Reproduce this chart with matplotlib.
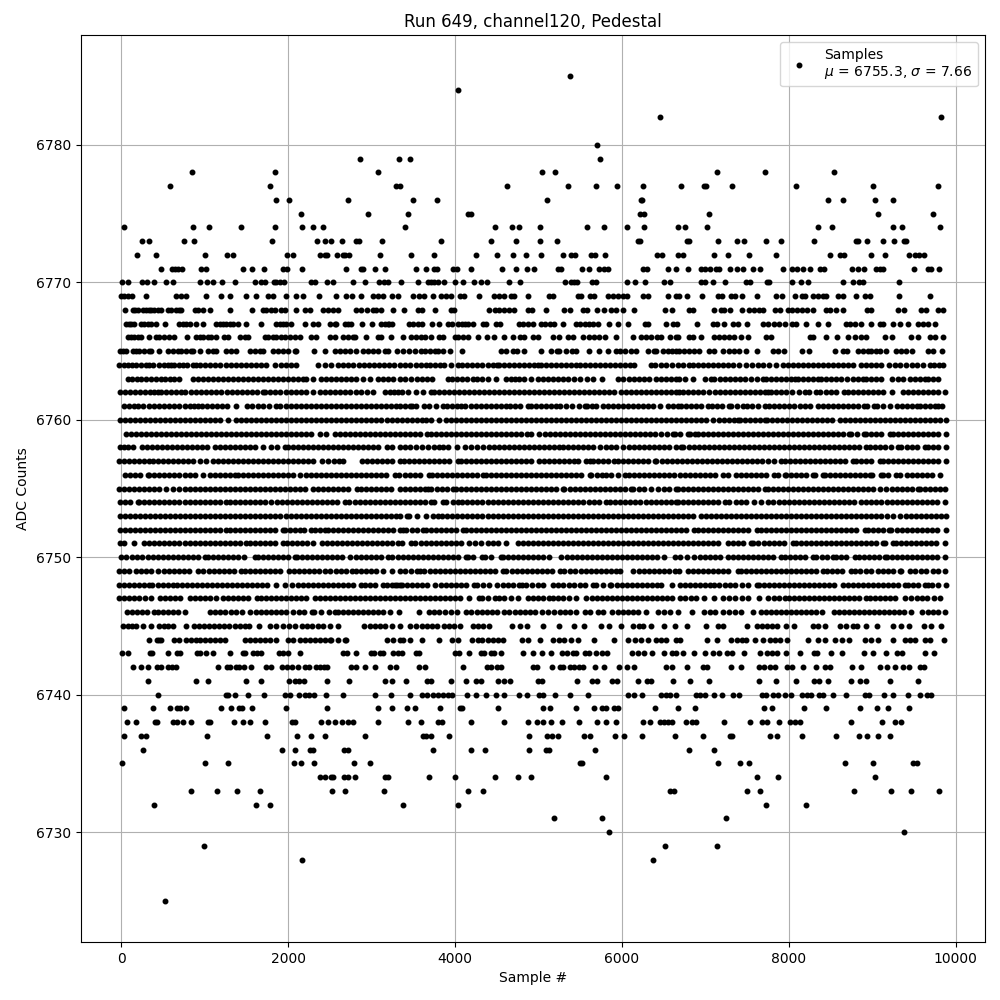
###############################################################################
# Pedestal samples for one ADC channel
# Sample numbers below are read off the picture, one list per ADC count
###############################################################################
import matplotlib
matplotlib.use("Agg")
import matplotlib.pyplot as plt

# Sparse rows
adc_6785 = [5376]
adc_6784 = [4040]
adc_6782 = [6456, 9828]
adc_6780 = [5700]
adc_6779 = [2864, 3332, 3464, 5736]
adc_6778 = [848, 1844, 3080, 5040, 5196, 7140, 7716, 8544]
adc_6777 = [584, 1784, 3296, 3344, 4628, 5352, 5688, 5940, 6252, 6708, 6984, 7008, 7320, 8088, 9012, 9792]
adc_6776 = [1856, 2012, 2720, 3500, 3788, 5100, 6228, 6240, 8472, 8652, 9036, 9252]
adc_6775 = [2156, 2960, 3440, 4160, 4196, 6216, 6264, 7044, 9072, 9732]
adc_6774 = [32, 860, 1052, 1436, 1844, 2168, 2300, 2420, 3404, 4484, 4688, 4772, 5016, 5580, 5784, 6060, 6264, 6672,
            6756, 7020, 8352, 8520, 9252, 9360, 9816]
adc_6773 = [248, 332, 752, 872, 1808, 2348, 2444, 2516, 2648, 2816, 2852, 3128, 3836, 4436, 4736, 5016, 5220, 6192,
            6216, 6780, 6804, 7152, 7380, 7464, 7728, 7908, 8304, 8808, 8832, 8940, 9132, 9264, 9384, 9408]
adc_6772 = [188, 416, 1004, 1268, 1340, 1988, 2060, 2384, 2444, 2468, 2588, 2660, 2684, 2732, 3104, 3476, 3752, 4256,
            4508, 4700, 4856, 5028, 5292, 5388, 5436, 5628, 5676, 5796, 6420, 6480, 6672, 6732, 7104, 7272, 7524, 7848,
            8496, 8616, 8664, 8988, 9156, 9444, 9516, 9564, 9624]
adc_6771 = [476, 608, 644, 680, 728, 956, 1016, 1460, 1568, 1712, 1940, 1988, 2168, 2696, 2876, 2900, 3044, 3164, 3536,
            3656, 3752, 3788, 3980, 4028, 4196, 4568, 4736, 4868, 4944, 5232, 5268, 5520, 5604, 5724, 5784, 5832, 6252,
            6300, 6552, 6648, 6792, 6948, 6996, 7056, 7128, 7164, 7296, 7380, 7452, 7572, 7656, 7932, 8040, 8100, 8172,
            8256, 8372, 8424, 8760, 8832, 8904, 9048, 9096, 9132, 9504, 9672, 9708, 9804]
adc_6770 = [8, 80, 248, 308, 392, 536, 620, 944, 1028, 1100, 1208, 1364, 1604, 1676, 1724, 1832, 1856, 1904, 1952, 2276,
            2324, 2468, 2540, 2780, 2924, 3092, 3152, 3200, 3356, 3560, 3680, 3716, 3752, 3800, 3872, 4004, 4100, 4232,
            4316, 4388, 4652, 4784, 5316, 5388, 5424, 5460, 5640, 5688, 6060, 6156, 6276, 6504, 6576, 6948, 6996, 7092,
            7236, 7488, 7536, 7740, 7764, 8040, 8148, 8232, 8652, 8772, 8844, 8892, 9324]

# Upper band
adc_6769 = [0, 40, 80, 128, 296, 660, 720, 772, 1012, 1200, 1300, 1500, 1616, 1760, 1820, 1976, 2092, 2180, 2372, 2576,
            2700, 2768, 2876, 3020, 3080, 3140, 3240, 3320, 3492, 3572, 3624, 3732, 3832, 3892, 3952, 4060, 4112, 4292,
            4464, 4532, 4592, 4672, 4712, 4872, 5132, 5172, 5472, 5512, 5612, 5660, 5832, 5892, 5952, 6012, 6060, 6252,
            6312, 6552, 6652, 6680, 6776, 6956, 7148, 7200, 7308, 7356, 7436, 7616, 7848, 7916, 8072, 8160, 8188, 8288,
            8348, 8408, 8440, 8588, 8648, 8808, 8908, 8968, 9320, 9692]
adc_6768 = [48, 140, 170, 200, 260, 300, 330, 360, 400, 440, 480, 560, 600, 660, 700, 720, 880, 920, 980, 1060, 1300,
            1568, 1700, 1740, 1800, 1840, 1920, 1960, 2100, 2200, 2260, 2420, 2480, 2540, 2600, 2820, 2880, 2950, 3020,
            3060, 3120, 3252, 3384, 3552, 3600, 3760, 3952, 3992, 4404, 4484, 4532, 4592, 4644, 4704, 4872, 4924, 5092,
            5304, 5384, 5532, 5580, 5700, 5784, 5872, 5932, 6012, 6144, 6512, 6604, 6800, 6856, 7108, 7188, 7228, 7300,
            7436, 7528, 7588, 7648, 7688, 7840, 7896, 7988, 8040, 8096, 8156, 8216, 8288, 8440, 8496, 8568, 8648, 8936,
            8988, 9308, 9380, 9588, 9648, 9788, 9848]
adc_6767 = [60, 90, 120, 160, 240, 280, 320, 360, 420, 532, 700, 740, 780, 820, 900, 980, 1140, 1180, 1220, 1260, 1300,
            1340, 1400, 1500, 1676, 1860, 1900, 1940, 1980, 2036, 2208, 2300, 2360, 2500, 2560, 2580, 2680, 2720, 2760,
            2892, 3008, 3120, 3160, 3200, 3240, 3212, 3452, 3500, 3560, 3600, 3724, 3804, 3912, 3960, 4032, 4080, 4120,
            4160, 4212, 4332, 4372, 4492, 4544, 4772, 4820, 4880, 4932, 5032, 5080, 5140, 5192, 5300, 5452, 5500, 5552,
            5600, 5652, 5712, 5840, 5952, 6072, 6272, 6312, 6532, 6612, 6660, 6896, 7088, 7140, 7220, 7336, 7388, 7496,
            7688, 7748, 7828, 7888, 7948, 8040, 8080, 8208, 8348, 8468, 8680, 8728, 8788, 8868, 8988, 9088, 9128, 9248,
            9328, 9428, 9548, 9608, 9668, 9748]
adc_6766 = [80, 120, 160, 200, 240, 340, 420, 460, 520, 580, 640, 788, 900, 940, 980, 1040, 1080, 1140, 1230, 1280, 1420,
            1480, 1520, 1720, 1760, 1820, 1860, 1920, 1960, 2020, 2080, 2140, 2280, 2340, 2500, 2560, 2660, 2720, 2780,
            2800, 2940, 3080, 3120, 3232, 3372, 3472, 3530, 3590, 3644, 3712, 3812, 3852, 4000, 4040, 4100, 4160, 4272,
            4380, 4464, 4584, 4692, 4780, 4832, 4932, 4992, 5172, 5252, 5352, 5420, 5532, 5600, 5660, 5720, 5792, 5924,
            6132, 6232, 6292, 6352, 6420, 6472, 6572, 6652, 6668, 6800, 6856, 6948, 7108, 7168, 7228, 7280, 7348, 7428,
            7508, 7728, 7788, 8248, 8288, 8448, 8576, 8708, 8788, 8868, 8928, 9152, 9236, 9468, 9548, 9688, 9748, 9848]
adc_6765 = [-16, 20, 60, 140, 180, 220, 280, 340, 360, 460, 560, 620, 680, 720, 780, 840, 860, 940, 1040, 1100, 1140,
            1260, 1320, 1380, 1540, 1600, 1660, 1700, 1820, 1880, 1940, 2000, 2080, 2100, 2312, 2440, 2560, 2620, 2680,
            2740, 2820, 2900, 2960, 3020, 3080, 3160, 3200, 3300, 3372, 3452, 3524, 3592, 3640, 3700, 3760, 3800, 3860,
            3940, 4080, 4552, 4612, 4692, 4744, 4824, 5032, 5152, 5220, 5252, 5332, 5400, 5452, 5604, 5724, 5832, 5932,
            5980, 6032, 6112, 6172, 6312, 6380, 6412, 6492, 6550, 6600, 6652, 6688, 6748, 6808, 6868, 6928, 7048, 7108,
            7208, 7288, 7348, 7408, 7488, 7616, 7808, 7868, 7940, 8156, 8240, 8548, 8648, 8700, 8828, 8888, 8948, 8988,
            9048, 9096, 9168, 9288, 9348, 9408, 9472, 9668, 9728, 9836]
adc_6764 = [-20, 30, 80, 130, 180, 240, 300, 340, 380, 460, 510, 560, 600, 640, 690, 740, 790, 860, 900, 950, 1010, 1070,
            1130, 1190, 1260, 1320, 1380, 1440, 1500, 1560, 1620, 1680, 1740, 1848, 1920, 1980, 2040, 2100, 2360, 2440,
            2520, 2600, 2660, 2720, 2780, 2850, 2910, 2970, 3030, 3090, 3150, 3210, 3270, 3340, 3400, 3460, 3530, 3590,
            3650, 3700, 3760, 3820, 3872, 3950, 4032, 4090, 4150, 4210, 4270, 4330, 4390, 4450, 4500, 4530, 4590, 4650,
            4710, 4770, 4830, 4890, 4950, 4990, 5032, 5090, 5150, 5210, 5270, 5330, 5390, 5450, 5500, 5560, 5620, 5680,
            5740, 5800, 5860, 5920, 5980, 6040, 6100, 6150, 6352, 6400, 6470, 6530, 6600, 6670, 6730, 6800, 6850, 6910,
            6970, 7030, 7090, 7150, 7210, 7270, 7330, 7400, 7488, 7560, 7628, 7688, 7768, 7848, 7928, 7990, 8050, 8110,
            8170, 8230, 8290, 8350, 8410, 8470, 8530, 8590, 8650, 8710, 8770, 8868, 8930, 8990, 9050, 9110, 9200, 9268,
            9330, 9400, 9470, 9540, 9610, 9688, 9740, 9800, 9848]
adc_6763 = [80, 130, 190, 240, 300, 360, 420, 480, 530, 590, 640, 700, 860, 920, 980, 1040, 1100, 1160, 1220, 1280, 1340,
            1400, 1460, 1520, 1580, 1640, 1700, 1760, 1820, 1880, 1940, 2000, 2060, 2120, 2180, 2220, 2300, 2400, 2460,
            2520, 2580, 2640, 2700, 2760, 2820, 2900, 2980, 3080, 3140, 3200, 3260, 3340, 3400, 3470, 3550, 3610, 3670,
            3730, 3912, 3970, 4030, 4090, 4150, 4212, 4270, 4330, 4400, 4490, 4612, 4670, 4720, 4772, 4832, 4912, 4992,
            5050, 5110, 5170, 5232, 5292, 5352, 5430, 5500, 5580, 5650, 5760, 5952, 6010, 6080, 6140, 6200, 6270, 6330,
            6412, 6470, 6530, 6590, 6650, 6690, 6750, 6850, 7000, 7070, 7108, 7170, 7230, 7290, 7356, 7420, 7480, 7550,
            7620, 7690, 7730, 7790, 7850, 7910, 7970, 8030, 8070, 8108, 8170, 8230, 8290, 8350, 8390, 8450, 8510, 8570,
            8630, 8700, 8770, 8830, 8890, 8930, 8990, 9050, 9110, 9240, 9310, 9370, 9450, 9510, 9570, 9630, 9670, 9730,
            9790]
adc_6762 = [-10, 50, 110, 170, 230, 290, 350, 400, 440, 480, 540, 600, 660, 720, 760, 840, 900, 960, 1020, 1080, 1140,
            1200, 1268, 1330, 1390, 1450, 1510, 1570, 1630, 1700, 1720, 1780, 1850, 1910, 1970, 2030, 2090, 2150, 2210,
            2300, 2380, 2440, 2500, 2560, 2620, 2680, 2740, 2820, 2880, 2950, 3020, 3160, 3220, 3270, 3312, 3370, 3440,
            3530, 3612, 3710, 3750, 3810, 3870, 3930, 3990, 4050, 4110, 4170, 4230, 4290, 4350, 4410, 4470, 4530, 4590,
            4650, 4710, 4770, 4830, 4890, 4950, 5010, 5070, 5130, 5190, 5250, 5310, 5372, 5430, 5490, 5550, 5610, 5670,
            5730, 5790, 5850, 5900, 5990, 6050, 6110, 6170, 6230, 6290, 6350, 6410, 6470, 6530, 6590, 6650, 6690, 6730,
            6790, 6850, 6910, 6968, 7048, 7110, 7170, 7230, 7290, 7350, 7410, 7470, 7530, 7590, 7650, 7710, 7750, 7790,
            7850, 7910, 7970, 8040, 8120, 8190, 8240, 8320, 8376, 8440, 8500, 8560, 8656, 8708, 8770, 8830, 8888, 8950,
            9010, 9070, 9130, 9230, 9370, 9430, 9490, 9550, 9610, 9670, 9730, 9790, 9870]
adc_6761 = [40, 90, 150, 200, 260, 330, 390, 450, 510, 570, 630, 690, 760, 820, 870, 920, 970, 1030, 1090, 1150, 1210,
            1270, 1372, 1508, 1570, 1640, 1700, 1772, 1852, 1910, 1970, 2030, 2090, 2150, 2210, 2270, 2330, 2390, 2450,
            2510, 2570, 2630, 2690, 2750, 2810, 2870, 2930, 2990, 3050, 3110, 3170, 3230, 3290, 3340, 3400, 3460, 3490,
            3532, 3632, 3684, 3772, 3852, 3910, 3970, 4030, 4070, 4124, 4190, 4250, 4310, 4370, 4430, 4490, 4550, 4612,
            4660, 4720, 4780, 4872, 4912, 4970, 5030, 5090, 5150, 5210, 5260, 5332, 5404, 5484, 5552, 5580, 5640, 5690,
            5772, 5830, 5890, 5950, 6010, 6070, 6130, 6190, 6250, 6310, 6370, 6460, 6552, 6610, 6672, 6710, 6770, 6830,
            6890, 6950, 7030, 7080, 7140, 7200, 7280, 7308, 7380, 7456, 7496, 7560, 7628, 7716, 7760, 7820, 7880, 7940,
            8000, 8060, 8130, 8190, 8248, 8348, 8410, 8470, 8530, 8590, 8650, 8710, 8770, 8830, 8896, 8936, 9016, 9056,
            9128, 9216, 9296, 9360, 9420, 9480, 9536, 9568, 9630, 9690, 9750, 9788, 9840]
adc_6760 = [-10, 50, 110, 170, 230, 290, 350, 410, 470, 530, 590, 650, 710, 770, 830, 890, 950, 1010, 1070, 1130, 1190,
            1280, 1380, 1440, 1500, 1560, 1620, 1680, 1740, 1800, 1860, 1920, 1980, 2040, 2100, 2160, 2220, 2280, 2340,
            2400, 2460, 2520, 2580, 2640, 2700, 2760, 2820, 2880, 2940, 3000, 3060, 3120, 3180, 3240, 3300, 3360, 3420,
            3480, 3540, 3600, 3650, 3712, 3812, 3892, 3952, 4010, 4070, 4130, 4190, 4250, 4310, 4370, 4430, 4490, 4550,
            4610, 4670, 4730, 4790, 4850, 4910, 4970, 5030, 5090, 5150, 5210, 5270, 5330, 5390, 5450, 5510, 5570, 5630,
            5690, 5750, 5810, 5870, 5930, 5990, 6050, 6110, 6170, 6230, 6290, 6350, 6410, 6470, 6530, 6590, 6650, 6710,
            6770, 6830, 6890, 6950, 7010, 7090, 7160, 7220, 7280, 7340, 7390, 7416, 7480, 7540, 7600, 7660, 7710, 7736,
            7800, 7860, 7920, 7980, 8040, 8100, 8160, 8220, 8280, 8340, 8400, 8460, 8520, 8610, 8668, 8730, 8790, 8850,
            8910, 8970, 9030, 9090, 9150, 9210, 9270, 9330, 9390, 9450, 9510, 9570, 9630, 9690, 9750, 9810, 9888]
adc_6759 = [60, 120, 180, 240, 300, 360, 420, 480, 540, 600, 660, 720, 780, 840, 900, 960, 1020, 1080, 1140, 1200, 1260,
            1320, 1380, 1440, 1500, 1560, 1620, 1680, 1740, 1800, 1860, 1920, 1980, 2040, 2100, 2160, 2220, 2280, 2380,
            2460, 2560, 2620, 2680, 2740, 2800, 2860, 2920, 2980, 3040, 3100, 3160, 3220, 3280, 3340, 3400, 3460, 3520,
            3580, 3670, 3712, 3770, 3830, 3890, 3950, 4010, 4070, 4130, 4190, 4250, 4310, 4370, 4430, 4490, 4550, 4610,
            4670, 4730, 4790, 4860, 4912, 5004, 5084, 5140, 5200, 5260, 5320, 5380, 5440, 5500, 5560, 5620, 5680, 5740,
            5800, 5860, 5920, 5980, 6040, 6100, 6160, 6212, 6272, 6340, 6400, 6470, 6540, 6612, 6640, 6700, 6790, 6810,
            6880, 6908, 6970, 7030, 7090, 7150, 7210, 7270, 7330, 7390, 7450, 7510, 7570, 7630, 7690, 7750, 7810, 7870,
            7930, 7990, 8050, 8110, 8170, 8230, 8290, 8350, 8410, 8470, 8530, 8590, 8650, 8720, 8748, 8820, 8896, 8928,
            8990, 9050, 9110, 9216, 9248, 9310, 9370, 9430, 9490, 9550, 9610, 9670, 9730, 9790, 9880]
adc_6758 = [-10, 40, 80, 140, 248, 310, 370, 430, 490, 550, 610, 670, 730, 790, 850, 910, 970, 1030, 1128, 1180, 1240,
            1300, 1360, 1420, 1480, 1540, 1600, 1700, 1800, 1870, 1960, 2000, 2060, 2120, 2180, 2240, 2300, 2360, 2420,
            2480, 2540, 2600, 2660, 2720, 2780, 2840, 2900, 2960, 3020, 3080, 3180, 3248, 3340, 3400, 3460, 3530, 3600,
            3680, 3750, 3810, 3852, 3920, 4030, 4124, 4190, 4260, 4332, 4412, 4470, 4530, 4590, 4650, 4710, 4770, 4830,
            4890, 4950, 5010, 5070, 5130, 5190, 5252, 5292, 5350, 5410, 5470, 5530, 5590, 5650, 5732, 5812, 5872, 5932,
            6012, 6080, 6140, 6200, 6260, 6320, 6380, 6440, 6500, 6570, 6650, 6710, 6736, 6800, 6860, 6920, 6980, 7040,
            7100, 7160, 7220, 7280, 7340, 7400, 7460, 7520, 7580, 7640, 7700, 7760, 7820, 7880, 7940, 8000, 8060, 8120,
            8180, 8240, 8300, 8360, 8420, 8480, 8540, 8600, 8660, 8720, 8780, 8840, 8930, 8968, 9030, 9090, 9150, 9220,
            9308, 9348, 9410, 9470, 9530, 9628, 9668, 9730, 9790, 9888]

# Centre band
adc_6757 = [-20, 40, 100, 160, 220, 280, 330, 380, 440, 500, 560, 620, 680, 740, 800, 860, 940, 1020, 1100, 1160, 1220,
            1280, 1340, 1400, 1460, 1520, 1580, 1640, 1700, 1760, 1820, 1880, 1940, 2000, 2060, 2120, 2180, 2240, 2300,
            2412, 2476, 2548, 2610, 2660, 2888, 2950, 3010, 3070, 3130, 3190, 3250, 3340, 3392, 3450, 3510, 3570, 3630,
            3690, 3750, 3810, 3870, 3930, 4032, 4072, 4130, 4190, 4250, 4310, 4370, 4430, 4490, 4550, 4610, 4670, 4730,
            4790, 4850, 4910, 5012, 5072, 5130, 5190, 5250, 5310, 5370, 5432, 5472, 5572, 5612, 5652, 5710, 5770, 5830,
            5900, 5950, 6010, 6070, 6130, 6190, 6250, 6310, 6392, 6412, 6480, 6540, 6600, 6660, 6720, 6780, 6840, 6900,
            6960, 7020, 7080, 7140, 7200, 7260, 7320, 7380, 7440, 7500, 7560, 7620, 7680, 7748, 7828, 7908, 7948, 8010,
            8070, 8130, 8190, 8250, 8310, 8370, 8430, 8490, 8550, 8610, 8670, 8768, 8808, 8870, 8930, 8990, 9088, 9128,
            9190, 9250, 9310, 9370, 9430, 9490, 9550, 9610, 9670, 9730, 9790, 9888]
adc_6756 = [52, 110, 170, 230, 320, 340, 400, 460, 520, 580, 640, 700, 760, 820, 880, 980, 1060, 1120, 1180, 1240, 1300,
            1360, 1400, 1460, 1520, 1580, 1640, 1700, 1760, 1820, 1880, 1940, 2000, 2060, 2140, 2212, 2270, 2330, 2390,
            2450, 2510, 2570, 2630, 2690, 2750, 2810, 2870, 2930, 2990, 3050, 3110, 3170, 3280, 3330, 3400, 3460, 3520,
            3580, 3690, 3724, 3790, 3850, 3910, 3970, 4030, 4090, 4150, 4210, 4270, 4332, 4372, 4430, 4490, 4550, 4610,
            4670, 4730, 4790, 4850, 4910, 4970, 5030, 5090, 5150, 5210, 5270, 5330, 5390, 5450, 5510, 5612, 5632, 5700,
            5760, 5812, 5872, 5952, 6032, 6090, 6150, 6210, 6270, 6330, 6390, 6450, 6510, 6570, 6630, 6692, 6750, 6810,
            6870, 6930, 6990, 7050, 7110, 7210, 7268, 7368, 7430, 7490, 7550, 7610, 7670, 7730, 7828, 7868, 7948, 7968,
            8030, 8090, 8150, 8210, 8288, 8316, 8408, 8428, 8490, 8550, 8610, 8670, 8730, 8790, 8850, 8910, 8968, 9000,
            9108, 9128, 9190, 9280, 9328, 9416, 9480, 9540, 9600, 9660, 9720, 9816]
adc_6755 = [-20, 40, 100, 160, 220, 280, 340, 400, 460, 540, 620, 700, 760, 820, 880, 940, 1000, 1060, 1120, 1180, 1240,
            1300, 1360, 1420, 1480, 1540, 1600, 1660, 1720, 1780, 1840, 1900, 1960, 2020, 2080, 2140, 2200, 2300, 2360,
            2420, 2480, 2540, 2600, 2660, 2720, 2830, 2870, 2930, 2990, 3050, 3110, 3170, 3230, 3340, 3400, 3460, 3520,
            3580, 3644, 3672, 3712, 3780, 3840, 3900, 3972, 4012, 4070, 4130, 4190, 4250, 4310, 4370, 4430, 4490, 4550,
            4610, 4670, 4730, 4790, 4850, 4910, 4970, 5030, 5090, 5150, 5210, 5292, 5312, 5380, 5440, 5500, 5560, 5620,
            5680, 5740, 5800, 5860, 5920, 5980, 6040, 6112, 6132, 6200, 6260, 6352, 6432, 6500, 6570, 6650, 6670, 6730,
            6790, 6850, 6910, 6970, 7030, 7090, 7150, 7210, 7270, 7330, 7390, 7450, 7510, 7570, 7630, 7710, 7750, 7810,
            7870, 7930, 7990, 8050, 8110, 8170, 8230, 8290, 8350, 8410, 8470, 8530, 8590, 8650, 8710, 8770, 8830, 8890,
            8950, 9008, 9096, 9168, 9230, 9290, 9350, 9410, 9470, 9548, 9568, 9630, 9690, 9750, 9810, 9868]
adc_6754 = [-10, 50, 110, 200, 220, 280, 340, 400, 460, 520, 580, 640, 700, 760, 820, 880, 940, 1000, 1060, 1120, 1180,
            1260, 1300, 1360, 1420, 1480, 1540, 1600, 1660, 1720, 1800, 1868, 1930, 1990, 2050, 2110, 2170, 2230, 2290,
            2350, 2410, 2470, 2530, 2590, 2680, 2732, 2800, 2860, 2920, 2980, 3040, 3100, 3160, 3220, 3280, 3340, 3400,
            3460, 3520, 3580, 3640, 3712, 3752, 3852, 3892, 3972, 4032, 4090, 4150, 4210, 4270, 4330, 4390, 4450, 4510,
            4570, 4630, 4690, 4750, 4810, 4870, 4930, 4990, 5050, 5110, 5170, 5230, 5290, 5350, 5410, 5470, 5532, 5600,
            5660, 5720, 5812, 5860, 5920, 5980, 6040, 6100, 6152, 6212, 6292, 6350, 6410, 6470, 6530, 6590, 6652, 6670,
            6730, 6790, 6850, 6910, 6970, 7030, 7090, 7150, 7230, 7288, 7368, 7430, 7490, 7588, 7668, 7756, 7816, 7880,
            7940, 8000, 8060, 8120, 8180, 8240, 8300, 8360, 8420, 8480, 8540, 8600, 8660, 8720, 8780, 8868, 8930, 8990,
            9050, 9110, 9170, 9230, 9290, 9350, 9410, 9470, 9530, 9590, 9650, 9710, 9770, 9868]
adc_6753 = [-10, 50, 110, 170, 230, 290, 350, 410, 470, 530, 590, 650, 710, 770, 830, 890, 950, 1010, 1070, 1130, 1190,
            1250, 1310, 1370, 1430, 1490, 1550, 1610, 1670, 1730, 1790, 1850, 1910, 1970, 2030, 2090, 2150, 2210, 2270,
            2330, 2390, 2450, 2510, 2570, 2630, 2690, 2750, 2810, 2870, 2930, 2990, 3050, 3110, 3170, 3230, 3290, 3340,
            3420, 3452, 3540, 3652, 3732, 3792, 3850, 3910, 3970, 4030, 4090, 4150, 4210, 4270, 4330, 4390, 4450, 4510,
            4570, 4630, 4690, 4750, 4810, 4870, 4930, 4990, 5050, 5110, 5170, 5230, 5290, 5350, 5410, 5470, 5530, 5590,
            5650, 5710, 5770, 5830, 5890, 5950, 6010, 6070, 6130, 6190, 6250, 6310, 6370, 6430, 6490, 6550, 6610, 6670,
            6730, 6790, 6850, 6950, 7008, 7070, 7130, 7190, 7250, 7310, 7370, 7430, 7490, 7550, 7610, 7670, 7730, 7790,
            7850, 7910, 7970, 8030, 8090, 8150, 8210, 8270, 8330, 8390, 8450, 8510, 8570, 8630, 8690, 8750, 8810, 8870,
            8930, 8990, 9050, 9110, 9170, 9248, 9336, 9400, 9460, 9520, 9580, 9640, 9700, 9760, 9820, 9888]
adc_6752 = [-10, 50, 110, 170, 230, 290, 350, 410, 470, 530, 590, 650, 710, 770, 830, 890, 950, 1010, 1070, 1130, 1190,
            1260, 1310, 1370, 1430, 1490, 1550, 1610, 1670, 1730, 1790, 1850, 1940, 1960, 2020, 2080, 2140, 2188, 2280,
            2320, 2380, 2440, 2480, 2540, 2600, 2660, 2720, 2780, 2840, 2900, 2960, 3020, 3080, 3140, 3200, 3260, 3340,
            3380, 3412, 3480, 3540, 3620, 3652, 3710, 3770, 3830, 3890, 3950, 4010, 4100, 4132, 4190, 4250, 4310, 4370,
            4430, 4490, 4550, 4610, 4670, 4730, 4790, 4850, 4910, 4970, 5030, 5090, 5150, 5210, 5270, 5330, 5390, 5450,
            5510, 5570, 5630, 5690, 5750, 5810, 5870, 5930, 5990, 6050, 6110, 6170, 6230, 6290, 6350, 6410, 6470, 6530,
            6590, 6650, 6710, 6770, 6860, 6908, 6970, 7030, 7090, 7150, 7210, 7270, 7330, 7390, 7450, 7510, 7616, 7668,
            7730, 7790, 7850, 7910, 7970, 8030, 8090, 8150, 8210, 8270, 8330, 8390, 8450, 8510, 8570, 8630, 8690, 8750,
            8810, 8908, 8948, 9010, 9070, 9130, 9200, 9228, 9290, 9350, 9410, 9470, 9530, 9590, 9650, 9710, 9770, 9888]
adc_6751 = [-10, 40, 160, 280, 340, 400, 460, 520, 580, 640, 700, 760, 820, 880, 940, 1000, 1060, 1120, 1180, 1240, 1300,
            1360, 1420, 1500, 1548, 1610, 1670, 1730, 1790, 1850, 1940, 1988, 2050, 2110, 2170, 2230, 2300, 2412, 2470,
            2530, 2590, 2650, 2710, 2770, 2830, 2890, 2950, 3010, 3070, 3130, 3190, 3250, 3312, 3364, 3472, 3524, 3590,
            3650, 3710, 3770, 3830, 3890, 3950, 4010, 4070, 4172, 4244, 4310, 4392, 4452, 4512, 4612, 4752, 4810, 4870,
            4930, 4990, 5050, 5110, 5170, 5230, 5290, 5350, 5410, 5470, 5530, 5590, 5650, 5710, 5770, 5830, 5890, 5950,
            6010, 6070, 6130, 6190, 6250, 6310, 6370, 6430, 6490, 6550, 6610, 6670, 6730, 6790, 6850, 6910, 6970, 7030,
            7090, 7150, 7270, 7328, 7390, 7450, 7548, 7568, 7630, 7700, 7760, 7820, 7880, 7940, 8048, 8088, 8150, 8210,
            8270, 8330, 8390, 8450, 8510, 8570, 8630, 8690, 8750, 8810, 8870, 8930, 8990, 9050, 9128, 9148, 9248, 9280,
            9340, 9400, 9460, 9520, 9580, 9640, 9700, 9760, 9868]
adc_6750 = [0, 60, 130, 190, 252, 320, 380, 440, 500, 560, 620, 680, 740, 800, 860, 920, 1000, 1040, 1100, 1160, 1220,
            1280, 1340, 1400, 1468, 1600, 1640, 1700, 1760, 1820, 1880, 1940, 2000, 2080, 2108, 2170, 2230, 2290, 2350,
            2410, 2470, 2530, 2590, 2650, 2740, 2812, 2870, 2930, 2990, 3050, 3110, 3200, 3250, 3320, 3380, 3440, 3500,
            3560, 3620, 3680, 3740, 3800, 3860, 3920, 3980, 4040, 4132, 4152, 4220, 4324, 4364, 4430, 4552, 4572, 4640,
            4700, 4760, 4820, 4880, 4940, 5000, 5060, 5132, 5272, 5340, 5400, 5460, 5520, 5580, 5640, 5700, 5760, 5820,
            5880, 5940, 6000, 6060, 6120, 6180, 6240, 6300, 6360, 6420, 6500, 6632, 6692, 6776, 6860, 6936, 7000, 7060,
            7120, 7176, 7268, 7330, 7390, 7450, 7510, 7570, 7630, 7690, 7750, 7810, 7908, 7948, 8010, 8070, 8130, 8190,
            8288, 8328, 8400, 8460, 8528, 8568, 8630, 8690, 8788, 8840, 8900, 8960, 9020, 9080, 9148, 9176, 9240, 9300,
            9360, 9420, 9480, 9540, 9600, 9660, 9720, 9780, 9868]
adc_6749 = [-20, 40, 100, 180, 240, 300, 360, 448, 510, 570, 630, 690, 750, 810, 920, 976, 1048, 1110, 1170, 1230, 1290,
            1350, 1440, 1488, 1550, 1610, 1670, 1730, 1790, 1850, 1910, 2008, 2068, 2130, 2190, 2250, 2310, 2370, 2440,
            2508, 2570, 2640, 2700, 2768, 2820, 2880, 2940, 3000, 3060, 3132, 3240, 3340, 3400, 3470, 3540, 3580, 3632,
            3700, 3760, 3820, 3880, 3940, 4000, 4060, 4120, 4180, 4240, 4300, 4360, 4420, 4480, 4572, 4612, 4680, 4740,
            4800, 4860, 4920, 4980, 5040, 5100, 5160, 5260, 5312, 5380, 5440, 5512, 5564, 5630, 5690, 5750, 5810, 5870,
            5932, 5980, 6132, 6200, 6260, 6320, 6380, 6440, 6500, 6560, 6632, 6688, 6788, 6850, 6910, 6970, 7030, 7090,
            7150, 7210, 7270, 7388, 7428, 7490, 7550, 7610, 7670, 7730, 7790, 7850, 7910, 7970, 8030, 8090, 8150, 8208,
            8268, 8330, 8408, 8456, 8520, 8580, 8640, 8748, 8788, 8850, 8920, 8988, 9068, 9130, 9190, 9250, 9328, 9348,
            9448, 9508, 9588, 9640, 9728, 9790, 9868]
adc_6748 = [-20, 40, 100, 160, 220, 280, 340, 372, 440, 500, 560, 628, 668, 730, 790, 850, 910, 970, 1030, 1090, 1150,
            1210, 1270, 1330, 1390, 1450, 1510, 1570, 1630, 1690, 1750, 1860, 1960, 2052, 2120, 2180, 2240, 2300, 2360,
            2420, 2480, 2540, 2600, 2660, 2720, 2780, 2880, 2920, 2980, 3040, 3140, 3188, 3280, 3340, 3244, 3310, 3370,
            3430, 3490, 3550, 3610, 3670, 3764, 3830, 3890, 3950, 4010, 4070, 4130, 4232, 4264, 4340, 4412, 4500, 4572,
            4640, 4700, 4772, 4804, 4852, 4920, 4990, 5052, 5172, 5240, 5300, 5372, 5432, 5500, 5560, 5652, 5692, 5770,
            5852, 5872, 5940, 6000, 6060, 6120, 6180, 6240, 6300, 6360, 6420, 6472, 6604, 6692, 6760, 6820, 6880, 6940,
            7000, 7060, 7108, 7168, 7230, 7290, 7350, 7440, 7508, 7616, 7640, 7700, 7760, 7820, 7880, 7940, 8000, 8060,
            8120, 8180, 8240, 8300, 8360, 8420, 8480, 8540, 8648, 8708, 8770, 8830, 8890, 8950, 9010, 9070, 9130, 9190,
            9250, 9310, 9388, 9428, 9490, 9550, 9628, 9668, 9720, 9790, 9880]
adc_6747 = [-20, 40, 100, 160, 220, 290, 360, 468, 530, 590, 650, 710, 820, 880, 950, 1010, 1070, 1140, 1220, 1280, 1340,
            1400, 1460, 1520, 1628, 1680, 1740, 1800, 1860, 1920, 1980, 2040, 2100, 2160, 2220, 2320, 2380, 2440, 2500,
            2560, 2620, 2680, 2740, 2800, 2860, 2920, 2980, 3040, 3100, 3160, 3220, 3280, 3340, 3400, 3460, 3520, 3580,
            3640, 3700, 3760, 3820, 3880, 3940, 4000, 4060, 4172, 4284, 4324, 4392, 4484, 4532, 4592, 4672, 4752, 4872,
            4940, 5000, 5060, 5132, 5180, 5240, 5300, 5370, 5452, 5572, 5640, 5700, 5760, 5820, 5880, 5940, 6000, 6060,
            6120, 6180, 6240, 6300, 6360, 6420, 6480, 6540, 6600, 6692, 6760, 6830, 6890, 6988, 7108, 7208, 7280, 7350,
            7440, 7508, 7640, 7748, 7820, 7880, 7948, 8000, 8060, 8120, 8180, 8240, 8300, 8360, 8420, 8480, 8540, 8600,
            8660, 8720, 8780, 8840, 8928, 8968, 9030, 9090, 9150, 9210, 9270, 9388, 9468, 9530, 9590, 9656, 9740, 9816]
adc_6746 = [68, 130, 190, 250, 310, 400, 440, 500, 560, 620, 680, 760, 1068, 1130, 1190, 1240, 1320, 1380, 1452, 1540,
            1620, 1680, 1740, 1800, 1860, 1920, 1980, 2060, 2130, 2190, 2288, 2316, 2400, 2492, 2560, 2600, 2660, 2720,
            2780, 2840, 2900, 2960, 3020, 3080, 3140, 3220, 3328, 3564, 3684, 3750, 3810, 3884, 3952, 4020, 4132, 4192,
            4260, 4320, 4380, 4440, 4500, 4592, 4652, 4720, 4780, 4840, 4900, 4960, 5044, 5112, 5192, 5260, 5320, 5380,
            5452, 5552, 5620, 5712, 5772, 5884, 5950, 6010, 6070, 6130, 6190, 6292, 6432, 6500, 6572, 6668, 6836, 6988,
            7050, 7110, 7216, 7288, 7360, 7428, 7568, 7668, 7728, 7790, 7850, 7910, 7970, 8030, 8090, 8150, 8210, 8270,
            8328, 8400, 8536, 8600, 8660, 8720, 8780, 8840, 8896, 8960, 9020, 9080, 9140, 9200, 9260, 9320, 9380, 9468,
            9600, 9670, 9730, 9790, 9868]
adc_6745 = [20, 80, 130, 180, 260, 360, 460, 510, 560, 628, 772, 868, 930, 990, 1050, 1108, 1172, 1230, 1292, 1360,
            1420, 1480, 1532, 1652, 1788, 1860, 1940, 2012, 2088, 2168, 2230, 2290, 2360, 2420, 2500, 2600, 2916, 2980,
            3040, 3100, 3160, 3240, 3340, 3460, 3532, 3600, 3660, 3720, 3790, 3872, 3932, 3992, 4064, 4220, 4280, 4340,
            4404, 4680, 4784, 4860, 5052, 5244, 5424, 5540, 5744, 5844, 5992, 6132, 6204, 6252, 6344, 6500, 6632, 6780,
            7008, 7148, 7208, 7496, 7616, 7680, 7740, 7800, 7860, 7968, 8060, 8288, 8350, 8428, 8608, 8680, 8768, 8816,
            8920, 9056, 9248, 9348, 9440, 9616, 9708, 9828]
adc_6744 = [332, 428, 460, 480, 640, 700, 780, 840, 900, 940, 1000, 1060, 1120, 1180, 1240, 1480, 1540, 1600, 1660, 1720,
            1780, 1860, 2000, 2060, 2140, 2200, 2260, 2320, 2380, 2440, 2500, 2520, 2600, 2680, 2700, 3180, 3260, 3340,
            3380, 3460, 3600, 3812, 3960, 4040, 4200, 4280, 4320, 4400, 4460, 4520, 4580, 4800, 4880, 5020, 5172, 5252,
            5312, 5392, 5472, 5660, 5900, 6072, 6152, 6232, 6312, 6412, 6470, 6532, 6652, 6692, 7020, 7140, 7312, 7380,
            7440, 7492, 7592, 7692, 7772, 7840, 7900, 7972, 8232, 8352, 8432, 8552, 8632, 8724, 8912, 8990, 9072, 9252,
            9392, 9450, 9512, 9632, 9692, 9864]

# Lower band
adc_6743 = [8, 80, 344, 368, 560, 668, 704, 908, 944, 1016, 1100, 1304, 1460, 1484, 1580, 1628, 1676, 1892, 1940, 2000,
            2144, 2660, 2708, 2816, 2996, 3032, 3104, 3140, 3260, 3320, 3368, 3536, 3572, 4004, 4052, 4172, 4316, 4352,
            4436, 4472, 4556, 4820, 4932, 5044, 5148, 5280, 5340, 5412, 5448, 5556, 5604, 5688, 5760, 5820, 6120, 6192,
            6264, 6360, 6504, 6600, 6648, 6732, 6864, 6996, 7092, 7164, 7260, 7320, 7464, 7656, 7740, 7800, 7860, 7968,
            8136, 8296, 8340, 8508, 8640, 8904, 9012, 9168, 9300, 9360, 9636, 9744]
adc_6742 = [140, 236, 320, 428, 476, 560, 608, 656, 1160, 1268, 1304, 1376, 1412, 1472, 1556, 1736, 1796, 1928, 1988,
            2048, 2120, 2204, 2252, 2336, 2384, 2432, 2468, 2756, 2816, 2924, 3044, 3224, 3296, 3572, 3644, 4100, 4388,
            4436, 4508, 4556, 4932, 4980, 5160, 5256, 5292, 5376, 5424, 5484, 5532, 5676, 5784, 5964, 6060, 6144, 6528,
            6600, 6780, 6972, 7020, 7308, 7428, 7644, 7704, 7776, 7836, 7980, 8040, 8172, 8328, 8436, 8496, 8760, 8868,
            9096, 9180, 9276, 9372, 9444, 9576, 9624]
adc_6741 = [320, 896, 1040, 1496, 1676, 2012, 2084, 2132, 2192, 2468, 2732, 3164, 3248, 3416, 3668, 3716, 3956, 4136,
            4256, 4316, 4520, 4592, 4664, 4992, 5040, 5460, 5640, 5700, 5880, 5940, 6192, 6300, 6348, 6612, 6816, 7044,
            7644, 7848, 8088, 8304, 8364, 8472, 8748, 8856, 8928, 9212, 9552]
adc_6740 = [440, 1256, 1280, 1364, 1520, 1712, 1964, 2024, 2132, 2204, 2252, 2312, 2456, 2660, 3044, 3236, 3464, 3608,
            3668, 3740, 3800, 3860, 3920, 3968, 4148, 4256, 4376, 4496, 4592, 4772, 4868, 5004, 5052, 5196, 5376, 5592,
            6072, 6144, 6240, 6468, 6528, 6576, 6648, 6888, 6936, 6996, 7104, 7200, 7332, 7404, 7680, 7728, 7812, 7872,
            7956, 8028, 8160, 8220, 8268, 8364, 8412, 8532, 8688, 8916, 8964, 9144, 9252, 9432, 9576, 9660, 9708]
adc_6739 = [32, 380, 584, 668, 704, 776, 1196, 1316, 1412, 1448, 1568, 1976, 2468, 3080, 3248, 3428, 3524, 3824, 4064,
            4088, 4520, 5052, 5136, 5448, 5664, 5760, 5808, 5904, 5952, 6396, 6672, 6876, 7704, 7800, 8184, 8448, 8856,
            9060, 9192, 9444]
adc_6738 = [68, 176, 404, 428, 620, 668, 740, 836, 1040, 1064, 1352, 1460, 1544, 1724, 2048, 2084, 2396, 2480, 2564,
            2648, 2720, 2780, 3080, 3440, 3596, 3800, 3848, 4196, 4592, 4880, 4980, 5052, 5148, 5280, 5484, 5700, 5808,
            5928, 6252, 6336, 6456, 6504, 6552, 6600, 6768, 6840, 6888, 7224, 7536, 7680, 7740, 7884, 8016, 8076, 8136,
            8748, 9120, 9276, 9348]
adc_6737 = [32, 236, 296, 1028, 1748, 2108, 2276, 2444, 2924, 3620, 3656, 3716, 3932, 4892, 5100, 5160, 5232, 5544, 5616,
            5916, 6024, 6240, 6636, 6972, 7296, 7320, 7776, 7860, 8160, 8568, 8844, 8940, 9072, 9216]
adc_6736 = [260, 1928, 2084, 2264, 2300, 2672, 2720, 3740, 4196, 4364, 4892, 5088, 5124, 5676, 6804, 7104]
adc_6735 = [8, 1004, 1280, 2072, 2156, 2312, 2792, 2984, 5496, 5520, 7152, 7416, 7524, 8676, 9012, 9492, 9540]
adc_6734 = [2384, 2444, 2516, 2540, 2672, 2720, 2804, 3164, 3200, 3692, 4004, 4484, 4760, 4908, 5808, 7620, 7872, 9036]
adc_6733 = [836, 1148, 1388, 1664, 2528, 2684, 3152, 4160, 4340, 6576, 6624, 7500, 7656, 8784, 9228, 9468, 9804]
adc_6732 = [392, 1616, 1784, 3380, 4040, 7728, 8208]
adc_6731 = [5184, 5760, 7248]
adc_6730 = [5844, 9384]
adc_6729 = [992, 6516, 7140]
adc_6728 = [2168, 6372]
adc_6725 = [524]

adc_levels = [6785, 6784, 6782, 6780, 6779, 6778, 6777, 6776, 6775, 6774, 6773, 6772, 6771, 6770,
              6769, 6768, 6767, 6766, 6765, 6764, 6763, 6762, 6761, 6760, 6759, 6758,
              6757, 6756, 6755, 6754, 6753, 6752, 6751, 6750, 6749, 6748, 6747, 6746, 6745, 6744,
              6743, 6742, 6741, 6740, 6739, 6738, 6737, 6736, 6735, 6734, 6733, 6732, 6731, 6730,
              6729, 6728, 6725]
sample_rows = [adc_6785, adc_6784, adc_6782, adc_6780, adc_6779, adc_6778, adc_6777, adc_6776, adc_6775, adc_6774,
               adc_6773, adc_6772, adc_6771, adc_6770,
               adc_6769, adc_6768, adc_6767, adc_6766, adc_6765, adc_6764, adc_6763, adc_6762, adc_6761, adc_6760,
               adc_6759, adc_6758,
               adc_6757, adc_6756, adc_6755, adc_6754, adc_6753, adc_6752, adc_6751, adc_6750, adc_6749, adc_6748,
               adc_6747, adc_6746, adc_6745, adc_6744,
               adc_6743, adc_6742, adc_6741, adc_6740, adc_6739, adc_6738, adc_6737, adc_6736, adc_6735, adc_6734,
               adc_6733, adc_6732, adc_6731, adc_6730, adc_6729, adc_6728, adc_6725]

x = []
y = []
for level, row in zip(adc_levels, sample_rows):
    x.extend(row)
    y.extend([level] * len(row))

plt.figure(figsize=(10, 10))
plt.plot(x, y, 'k.', markersize=6.5, label='Samples\n$\\mu$ = 6755.3, $\\sigma$ = 7.66')
plt.xlim(-480, 10350)
plt.title('Run 649, channel120, Pedestal')
plt.xlabel('Sample #')
plt.ylabel('ADC Counts')
plt.legend(loc='upper right')
plt.grid(True)
plt.subplots_adjust(left=0.081, right=0.985, top=0.965, bottom=0.058)
plt.savefig('out.png', dpi=100)
